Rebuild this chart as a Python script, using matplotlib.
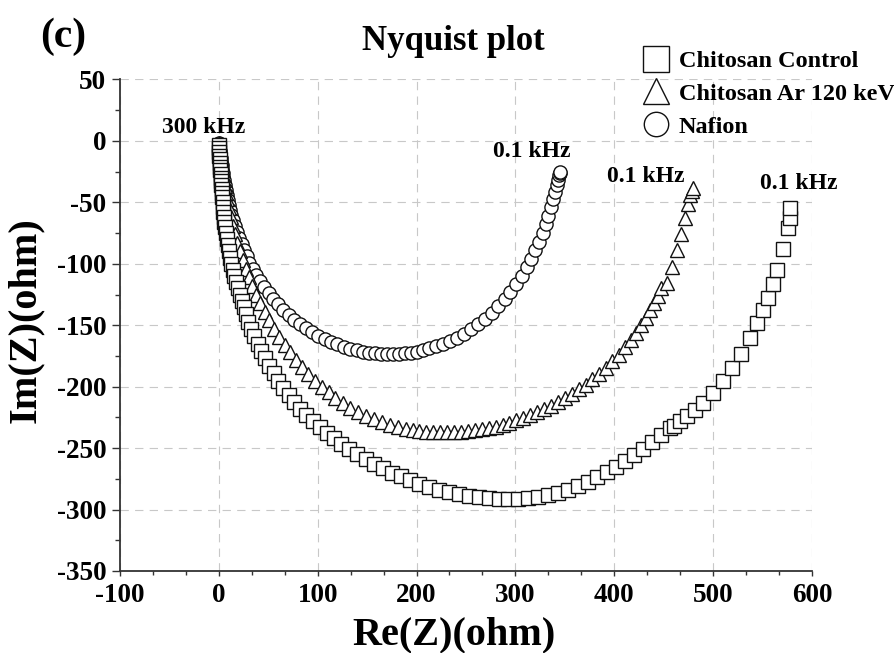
import matplotlib
matplotlib.use("Agg")
import matplotlib.pyplot as plt
from matplotlib.ticker import MultipleLocator

plt.rcParams["font.family"] = ["Liberation Serif", "DejaVu Serif"]
plt.rcParams["font.weight"] = "bold"
plt.rcParams["axes.unicode_minus"] = False
plt.rcParams["lines.scale_dashes"] = False

# Chitosan Control (squares)
ctrl_x = [0, 0, 0.5, 0.5, 1, 1, 1.5, 1.5, 2, 2, 2.5, 2.5, 3, 3, 3.5, 4, 4, 4.5, 5, 5.5,
          6, 7, 8, 9, 10, 11, 12.5, 14, 15.5, 17, 19, 21, 23, 25, 27.5, 30, 33, 36, 39.5, 43,
          47, 51, 55.5, 60, 65, 70.5, 76, 82, 88.5, 95, 102, 109, 116.5, 124, 132, 140, 148.5,
          157, 166, 175, 184, 193.5, 203, 213, 223, 233, 243, 253, 263, 273, 283, 293, 303,
          313, 323, 333, 343, 353, 363, 373, 383, 393, 402, 411, 420, 429, 438, 447, 456,
          460, 467, 474, 482, 490, 500, 510, 519.5, 528.5, 537, 544, 550, 555.5, 560.5, 565,
          570.5, 575.5, 577.5, 578]
ctrl_y = [-3, -6, -9, -12, -15, -18, -21, -24, -27, -30, -33, -36, -39, -42, -46, -50, -54,
          -58, -62, -66, -70, -75, -80, -85, -90, -95, -100, -105, -110, -115, -120, -125,
          -130, -135, -141, -147, -153, -159, -165, -171, -177, -183, -189, -195, -201, -207,
          -212.5, -218, -223, -228, -233, -237.5, -242, -246.5, -251, -255, -259, -263,
          -266.5, -270, -273, -276, -279, -281.5, -284, -286, -287.5, -289, -290, -291,
          -291.5, -291.5, -291.5, -291, -290, -288.5, -286.5, -284, -281, -277.5, -273.5,
          -269.5, -265, -260.5, -255.5, -250.5, -245, -239.5, -233.5, -232, -228, -224, -219,
          -213.5, -205.5, -195.5, -185, -173.5, -160.5, -148.5, -138, -127.5, -116.5, -105,
          -88, -71, -63, -55]

# Chitosan Ar 120 keV (triangles)
ar_x = [0, 0.5, 1, 1.5, 2, 2.5, 3, 3.5, 4, 5, 6, 7, 8, 10, 12, 14, 16, 18.5, 21, 24, 27,
        30.5, 34, 38, 42, 46.5, 51, 56, 61, 66.5, 72, 78, 84, 90.5, 97, 104, 111, 118, 125.5,
        133, 141, 149, 157, 165, 173, 181, 189, 196, 203, 210, 217, 224, 231, 238, 245, 252,
        259, 266, 273, 280, 287, 294, 301, 308, 315, 322, 329, 336, 343, 350, 357, 364, 371,
        378, 385, 391.5, 398, 404.5, 411, 417, 422.5, 427.5, 432, 436.5, 440.5, 444, 447.5,
        453.5, 458, 463, 468, 471.5, 474.5, 477, 478.5, 479.5]
ar_y = [-2, -5, -8, -11, -14, -17, -20, -24, -28, -32, -37, -42, -47, -55, -62, -69, -76,
        -83, -90, -97, -104, -111, -118, -125, -132, -139, -146, -153, -159.5, -166, -172,
        -178, -184, -189.5, -195, -200, -204.5, -209, -213, -217, -220.5, -223.5, -226.5,
        -229, -231, -233, -234.5, -235.5, -236.3, -236.8, -237, -237.2, -237.2, -237, -236.7,
        -236.2, -235.5, -234.7, -233.7, -232.5, -231, -229.5, -227.5, -225.5, -223.3, -221,
        -218.5, -215.7, -212.7, -209.5, -206, -202.3, -198.3, -194, -189.5, -184.5, -179,
        -174, -168, -162, -156, -150, -144, -138, -132, -126, -120, -115.5, -102.5, -89,
        -75.5, -62.5, -51, -44, -40.5, -38]

# Nafion (circles)
naf_x = [0, 0.5, 1, 1.5, 2, 2.5, 3, 3.5, 4, 4.5, 5, 6, 7, 8, 9, 10, 11, 12.5, 14, 16, 18,
         20.5, 23, 25.5, 28, 31, 34.5, 38, 42, 46, 50.5, 55, 60, 65, 70.5, 76, 82, 88, 94,
         100.5, 107, 113.5, 120, 126.5, 133, 139.5, 146, 152, 158, 164, 170, 176, 182, 188,
         194, 200, 206.5, 213, 220, 227, 234, 241, 248, 255, 262, 269, 276, 282.5, 289, 295,
         301, 306.5, 311.5, 316, 320, 324, 327.5, 330.5, 333.5, 336, 338.5, 340.5, 342.5,
         343.5, 344.5, 345, 345.5]
naf_y = [-2, -5, -8, -11, -14, -17, -20, -23, -26, -29, -32, -36, -40, -44, -48, -52, -56,
         -60, -64, -69, -74, -79, -84, -89, -94, -99, -104, -109, -114, -119, -124, -128.5,
         -133, -137.5, -141.5, -145.5, -149, -152.5, -155.5, -158.5, -161, -163.5, -165.5,
         -167.5, -169, -170.5, -171.5, -172.3, -172.8, -173.2, -173.4, -173.4, -173.2, -172.8,
         -172.2, -171.4, -170.3, -168.9, -167.2, -165.2, -162.8, -160, -156.8, -153.2, -149.2,
         -144.8, -139.8, -134.5, -128.8, -123, -116.5, -110, -103, -96, -89, -82, -75, -68,
         -61, -54, -47.5, -41.5, -36, -31.5, -28, -26, -25]

freq_labels = ["300 kHz", "0.1 kHz", "0.1 kHz", "0.1 kHz"]
freq_x = [-15, 317, 432, 587]
freq_y = [6.7, -12.8, -33.2, -39.4]


def main() -> None:
    fig = plt.figure(figsize=(8.94, 6.53), dpi=100)
    ax = fig.add_axes([0.1342, 0.1256, 0.7740, 0.7527])

    style = dict(linestyle="none", markerfacecolor="white", markeredgecolor="#111111",
                 markeredgewidth=1.0)
    (h_naf,) = ax.plot(naf_x, naf_y, marker="o", markersize=9.5, label="Nafion", **style)
    (h_ar,) = ax.plot(ar_x, ar_y, marker="^", markersize=10.5,
                      label="Chitosan Ar 120 keV", **style)
    (h_ctrl,) = ax.plot(ctrl_x, ctrl_y, marker="s", markersize=10,
                        label="Chitosan Control", **style)

    for label, x, y in zip(freq_labels, freq_x, freq_y):
        ax.text(x, y, label, ha="center", va="baseline", fontsize=17, fontweight="bold")

    ax.set_xlim(-100, 600)
    ax.set_ylim(-350, 50)
    ax.xaxis.set_major_locator(MultipleLocator(100))
    ax.xaxis.set_minor_locator(MultipleLocator(100 / 3))
    ax.yaxis.set_major_locator(MultipleLocator(50))
    ax.yaxis.set_minor_locator(MultipleLocator(25))

    ax.grid(True, which="major", color="#c8c8c8", linewidth=0.8, linestyle=(0, (6, 4.5)))
    ax.set_axisbelow(True)
    for side in ("top", "right"):
        ax.spines[side].set_visible(False)
    for side in ("left", "bottom"):
        ax.spines[side].set_color("#333333")
        ax.spines[side].set_linewidth(1.3)

    ax.tick_params(axis="y", which="major", direction="out", length=5.8, width=1.0,
                   color="#333333", labelsize=19.5, pad=4)
    ax.tick_params(axis="y", which="minor", direction="out", length=3.6, width=1.0,
                   color="#333333")
    ax.tick_params(axis="x", which="major", direction="out", length=3.5, width=1.0,
                   color="#333333", labelsize=19.5, pad=5)
    ax.tick_params(axis="x", which="minor", direction="out", length=3.0, width=1.0,
                   color="#333333")

    fig.text(0.0447, 0.9285, "(c)", fontsize=30, fontweight="bold", ha="left", va="baseline")
    fig.text(0.5073, 0.9234, "Nyquist plot", fontsize=25, fontweight="bold",
             ha="center", va="baseline")
    fig.text(0.029, 0.51, "Im(Z)(ohm)", fontsize=29, fontweight="bold", rotation=90,
             ha="center", va="center")
    # the source crops this label at the bottom edge; keep it just inside
    fig.text(0.5073, 0.0138, "Re(Z)(ohm)", fontsize=29, fontweight="bold",
             ha="center", va="baseline")

    ax.legend([h_ctrl, h_ar, h_naf],
              ["Chitosan Control", "Chitosan Ar 120 keV", "Nafion"],
              loc="upper left", bbox_to_anchor=(0.72, 0.923),
              bbox_transform=fig.transFigure, frameon=False, fontsize=17.5,
              markerscale=1.85, handlelength=1.0, handletextpad=0.45,
              labelspacing=0.44, borderpad=0, borderaxespad=0)

    fig.savefig("out.png", dpi=100)
    plt.close(fig)


if __name__ == "__main__":
    main()
